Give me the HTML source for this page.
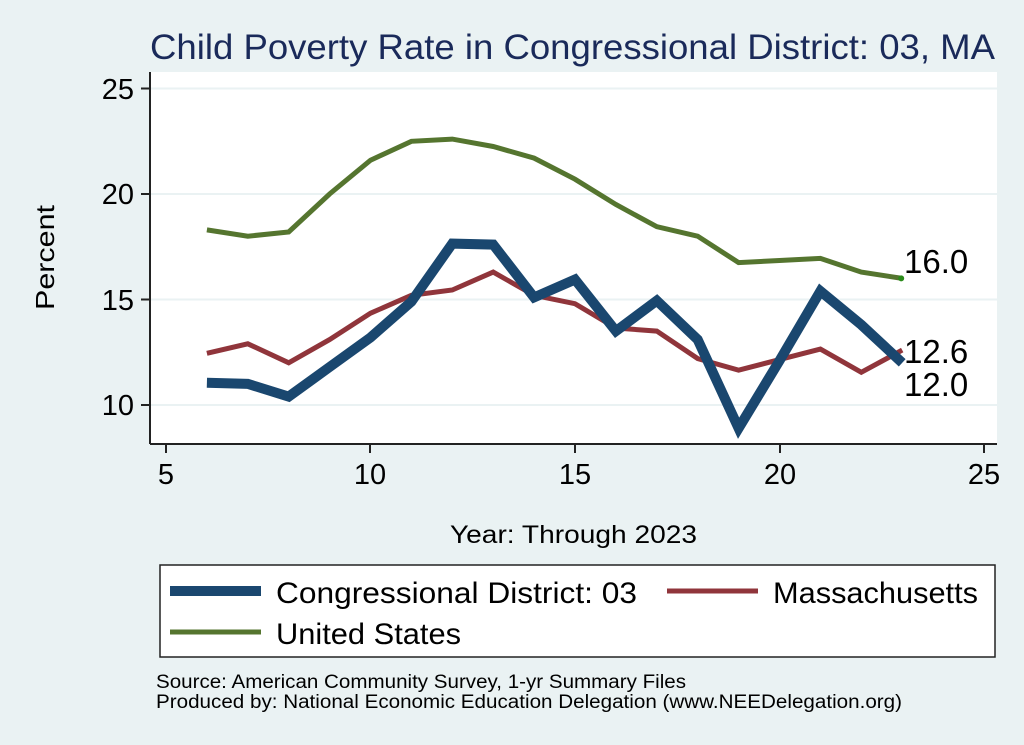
<!DOCTYPE html><html><head><style>body{margin:0;background:#eaf2f3}svg{display:block;font-family:"Liberation Sans",sans-serif}</style></head><body>
<svg id="s" width="1024" height="745" viewBox="0 0 1024 745" xmlns="http://www.w3.org/2000/svg" xml:space="preserve">
<rect width="1024" height="745" fill="#eaf2f3"/>
<text x="150" y="59" font-size="35" fill="#1a2a5a" textLength="845" lengthAdjust="spacingAndGlyphs">Child Poverty Rate in Congressional District:  03, MA</text>
<rect x="150" y="72" width="847" height="372" fill="#fff"/>
<g stroke="#eaf2f3" stroke-width="2"><line x1="150" x2="997" y1="88.5" y2="88.5"/><line x1="150" x2="997" y1="194" y2="194"/><line x1="150" x2="997" y1="299.5" y2="299.5"/><line x1="150" x2="997" y1="405" y2="405"/></g>
<g stroke="#222" stroke-width="2"><line x1="150" y1="72" x2="150" y2="444"/><line x1="150" y1="444" x2="997" y2="444"/>
<line x1="141" x2="150" y1="88.5" y2="88.5"/><line x1="141" x2="150" y1="194" y2="194"/><line x1="141" x2="150" y1="299.5" y2="299.5"/><line x1="141" x2="150" y1="405" y2="405"/>
<line x1="166" x2="166" y1="444" y2="453"/><line x1="370" x2="370" y1="444" y2="453"/><line x1="575" x2="575" y1="444" y2="453"/><line x1="780" x2="780" y1="444" y2="453"/><line x1="984" x2="984" y1="444" y2="453"/></g>
<g font-size="29" text-anchor="end" fill="#000"><text x="134" y="99">25</text><text x="134" y="204">20</text><text x="134" y="310">15</text><text x="134" y="415">10</text></g>
<g font-size="29" text-anchor="middle" fill="#000"><text x="166" y="484">5</text><text x="370" y="484">10</text><text x="575" y="484">15</text><text x="780" y="484">20</text><text x="984" y="484">25</text></g>
<text x="450" y="543" font-size="25" textLength="247" lengthAdjust="spacingAndGlyphs">Year: Through 2023</text>
<text transform="translate(54,310) rotate(-90)" font-size="26" textLength="105" lengthAdjust="spacingAndGlyphs">Percent</text>
<g id="lines" fill="none" stroke-linejoin="miter"></g>
<circle cx="901.2" cy="278.4" r="3" fill="#2a8a1a"/>
<g font-size="33"><text x="904" y="273">16.0</text><text x="904" y="363">12.6</text><text x="904" y="396">12.0</text></g>
<rect x="160" y="565" width="835" height="92" fill="#fff" stroke="#222" stroke-width="1.5"/>
<line x1="170" x2="261" y1="591" y2="591" stroke="#1a476f" stroke-width="10"/>
<text x="276" y="603" font-size="30" textLength="361" lengthAdjust="spacingAndGlyphs">Congressional District:  03</text>
<line x1="667" x2="758" y1="591" y2="591" stroke="#90353b" stroke-width="5"/>
<text x="773" y="603" font-size="30" textLength="205" lengthAdjust="spacingAndGlyphs">Massachusetts</text>
<line x1="170" x2="261" y1="632" y2="632" stroke="#55752f" stroke-width="5"/>
<text x="276" y="644" font-size="30" textLength="185" lengthAdjust="spacingAndGlyphs">United States</text>
<text x="156" y="688" font-size="19" textLength="530" lengthAdjust="spacingAndGlyphs">Source: American Community Survey, 1-yr Summary Files</text>
<text x="156" y="708" font-size="19" textLength="746" lengthAdjust="spacingAndGlyphs">Produced by: National Economic Education Delegation (www.NEEDelegation.org)</text>
</svg>
<script>
var cd=[11.05,11.0,10.4,11.8,13.2,14.9,17.65,17.6,15.1,15.95,13.5,14.95,13.1,8.9,12.1,15.4,13.8,12.0];
var ma=[12.45,12.9,12.0,13.1,14.35,15.2,15.45,16.3,15.2,14.8,13.65,13.5,12.2,11.65,12.15,12.65,11.55,12.6];
var us=[18.3,18.0,18.2,20.0,21.6,22.5,22.6,22.25,21.7,20.7,19.5,18.45,18.0,16.75,16.85,16.95,16.3,16.0];
function pts(a){return a.map(function(v,i){return (166+(i+1)*40.9).toFixed(1)+','+(405-(v-10)*21.1).toFixed(1)}).join(' ')}
var g=document.getElementById('lines'),ns='http://www.w3.org/2000/svg';
[[us,'#55752f',5],[ma,'#90353b',5],[cd,'#1a476f',10]].forEach(function(s){var p=document.createElementNS(ns,'polyline');p.setAttribute('points',pts(s[0]));p.setAttribute('stroke',s[1]);p.setAttribute('stroke-width',s[2]);g.appendChild(p);});
</script>
</body></html>
